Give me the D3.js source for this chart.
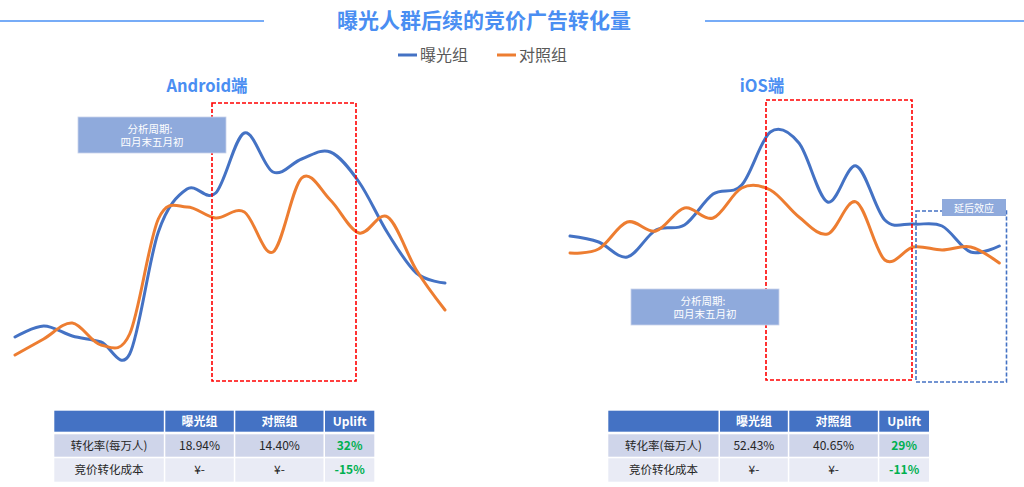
<!DOCTYPE html>
<html>
<head>
<meta charset="utf-8">
<script src="https://cdn.jsdelivr.net/npm/d3@7"></script>
<style>
  body { margin: 0; background: #fff; }
  text { font-family: "Noto Sans CJK SC", "Noto Sans", sans-serif; }
</style>
</head>
<body>
<script>
// data (index units, same scale for both panels)
const days = d3.range(16);
const androidExposed = [53, 64, 54, 48, 36, 158, 201, 197, 257, 218, 231, 238, 208, 157, 117, 107];
const androidControl = [35, 51, 67, 45, 56, 171, 183, 172, 178, 138, 212, 190, 157, 173, 120, 80];
const iosExposed = [154, 148, 133, 160, 165, 196, 205, 258, 247, 188, 224, 170, 166, 164, 138, 144];
const iosControl = [137, 141, 168, 159, 182, 172, 202, 200, 173, 156, 188, 130, 143, 140, 143, 127];

const seriesNames = ["曝光组", "对照组"];
const seriesColors = ["#4472c4", "#ed7d31"];

const tableHeader = ["", "曝光组", "对照组", "Uplift"];
const rowLabels = ["转化率(每万人)", "竞价转化成本"];
const androidTable = [["18.94%", "14.40%", "32%"], ["¥-", "¥-", "-15%"]];
const iosTable = [["52.43%", "40.65%", "29%"], ["¥-", "¥-", "-11%"]];

const w = 1024, h = 487;
const svg = d3.select("body").append("svg")
    .attr("width", w)
    .attr("height", h);

// title + side rules
svg.append("line").attr("x1", 0).attr("x2", 264).attr("y1", 21).attr("y2", 21)
    .attr("stroke", "#4a90f5").attr("stroke-width", 1.3);
svg.append("line").attr("x1", 705).attr("x2", 1024).attr("y1", 21).attr("y2", 21)
    .attr("stroke", "#4a90f5").attr("stroke-width", 1.3);
svg.append("text").attr("x", 484).attr("y", 28)
    .attr("text-anchor", "middle")
    .attr("font-size", 21).attr("font-weight", "bold")
    .attr("fill", "#4a8ef2")
    .text("曝光人群后续的竞价广告转化量");

// legend
const legend = svg.append("g");
seriesNames.forEach(function (name, i) {
    let x0 = 398 + i * 99;
    legend.append("line").attr("x1", x0).attr("x2", x0 + 19).attr("y1", 55).attr("y2", 55)
        .attr("stroke", seriesColors[i]).attr("stroke-width", 3);
    legend.append("text").attr("x", x0 + 22).attr("y", 61)
        .attr("font-size", 16).attr("fill", "#595959")
        .text(name);
});

const yScale = d3.scaleLinear().domain([0, 300]).range([390, 90]);

function panel(opts) {
    const g = svg.append("g");
    const xScale = d3.scaleLinear().domain([0, days.length - 1]).range(opts.xRange);

    g.append("text").attr("x", opts.titleX).attr("y", 92)
        .attr("text-anchor", "middle")
        .attr("font-size", 16.5).attr("font-weight", "bold")
        .attr("fill", "#4a8ef2")
        .text(opts.title);

    const line = d3.line()
        .x(function (d, i) { return xScale(i); })
        .y(function (d) { return yScale(d); })
        .curve(d3.curveCardinal.tension(0));

    [opts.exposed, opts.control].forEach(function (vals, i) {
        g.append("path").datum(vals)
            .attr("d", line)
            .attr("fill", "none")
            .attr("stroke", seriesColors[i])
            .attr("stroke-width", 3)
            .attr("stroke-linecap", "round");
    });

    // analysis window
    g.append("rect")
        .attr("x", opts.redBox[0]).attr("y", opts.redBox[1])
        .attr("width", opts.redBox[2]).attr("height", opts.redBox[3])
        .attr("fill", "none").attr("stroke", "#ff0000")
        .attr("stroke-width", 1.6).attr("stroke-dasharray", "4,2");

    if (opts.blueBox) {
        g.append("rect")
            .attr("x", opts.blueBox[0]).attr("y", opts.blueBox[1])
            .attr("width", opts.blueBox[2]).attr("height", opts.blueBox[3])
            .attr("fill", "none").attr("stroke", "#4472c4")
            .attr("stroke-width", 1.6).attr("stroke-dasharray", "4,2");
        g.append("rect").attr("x", 942).attr("y", 199).attr("width", 64).attr("height", 17)
            .attr("fill", "#8faadc");
        g.append("text").attr("x", 974).attr("y", 212)
            .attr("text-anchor", "middle").attr("font-size", 10).attr("fill", "#fff")
            .text("延后效应");
    }

    // note box
    const n = opts.note;
    g.append("rect").attr("x", n[0]).attr("y", n[1]).attr("width", 148).attr("height", 36)
        .attr("fill", "#8faadc").attr("stroke", "#c9d3ea").attr("stroke-width", 0.8);
    g.append("text").attr("x", n[0] + 72).attr("y", n[1] + 16)
        .attr("text-anchor", "middle").attr("font-size", 10.5).attr("fill", "#fff")
        .text("分析周期:");
    g.append("text").attr("x", n[0] + 74).attr("y", n[1] + 29)
        .attr("text-anchor", "middle").attr("font-size", 10.5).attr("fill", "#fff")
        .text("四月末五月初");

    // summary table
    const cols = opts.cols;
    const rowsY = [[410.7, 21], [434.3, 22.4], [458.3, 23.4]];
    const fills = ["#4472c4", "#cfd5ea", "#e9ebf5"];
    const rows = [tableHeader].concat(opts.table.map(function (r, i) {
        return [rowLabels[i]].concat(r);
    }));
    rows.forEach(function (r, ri) {
        r.forEach(function (cell, ci) {
            let x0 = cols[ci], x1 = cols[ci + 1] - 1.5;
            g.append("rect").attr("x", x0).attr("y", rowsY[ri][0])
                .attr("width", x1 - x0).attr("height", rowsY[ri][1])
                .attr("fill", fills[ri]);
            let color = ri === 0 ? "#fff" : (ci === 3 ? "#00b050" : "#262626");
            g.append("text")
                .attr("x", (x0 + x1) / 2).attr("y", rowsY[ri][0] + rowsY[ri][1] / 2 + 4.3)
                .attr("text-anchor", "middle")
                .attr("font-size", ci === 0 ? 11.5 : 12)
                .attr("font-weight", (ri === 0 || ci === 3) ? "bold" : "normal")
                .attr("fill", color)
                .text(cell);
        });
    });
}

panel({
    title: "Android端", titleX: 207, xRange: [15, 445],
    exposed: androidExposed, control: androidControl,
    redBox: [212, 103, 144, 278],
    note: [78, 117],
    cols: [54.3, 165.3, 235.3, 325, 375.8],
    table: androidTable
});

panel({
    title: "iOS端", titleX: 762, xRange: [570, 999.3],
    exposed: iosExposed, control: iosControl,
    redBox: [766, 100, 146, 280],
    blueBox: [916, 211, 90.5, 171],
    note: [631, 289],
    cols: [608.3, 720, 789.3, 879.3, 930.5],
    table: iosTable
});
</script>
</body>
</html>
